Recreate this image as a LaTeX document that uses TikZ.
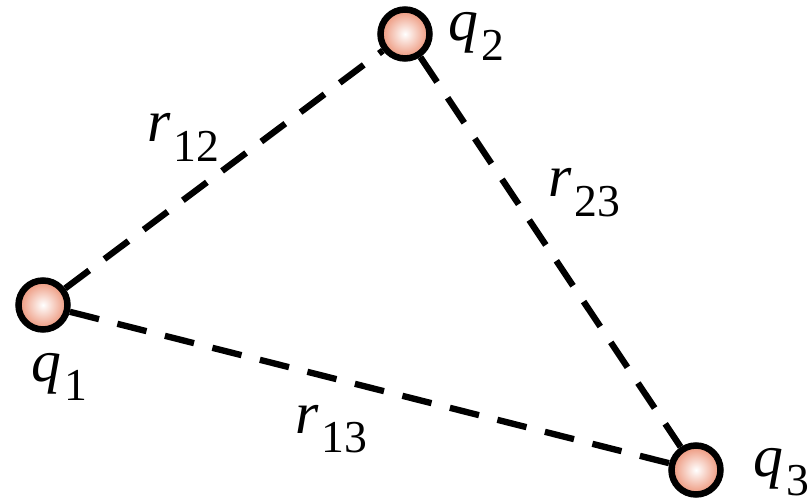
\documentclass[tikz,border=0pt]{standalone}
\usepackage{fontspec}
\setmainfont{Liberation Serif}
\usepackage{tikz}
\usetikzlibrary{positioning}

\definecolor{chargeedge}{RGB}{236,146,118}
\newcommand{\chglbl}[2]{\textit{#1}\kern0.05em\raisebox{-0.33em}{\fontsize{26}{30}\selectfont #2}}

\begin{document}
\begin{tikzpicture}[
  x=0.02cm, y=-0.02cm,
  charge/.style={circle, minimum size=0.98cm, inner sep=0pt, line width=3.7pt, draw=black, inner color=white, outer color=chargeedge},
  sepline/.style={line width=3.6pt, dash pattern=on 0.6cm off 0.38cm},
  lbl/.style={anchor=base west, inner sep=0pt, text height=0.5em, font=\fontsize{34}{40}\selectfont}
]
  \useasboundingbox (0,0) rectangle (808,503);

  % Ladungen
  \node (q1) [charge] at (43,305) {};
  \node (q2) [charge] at (405,34) {};
  \node (q3) [charge] at (696,470) {};

  % Abstaende
  \draw [sepline] (q1) -- (q2);
  \draw [sepline] (q2) -- (q3);
  \draw [sepline] (q1) -- (q3);

  % Beschriftung
  \node (lq1) [lbl] at (31,381) {\chglbl{q}{1}};
  \node (lq2) [lbl] at (448,41) {\chglbl{q}{2}};
  \node (lq3) [lbl] at (753,476) {\chglbl{q}{3}};
  \node (lr12) [lbl] at (147,142) {\chglbl{r}{12}};
  \node (lr23) [lbl] at (548,197) {\chglbl{r}{23}};
  \node (lr13) [lbl] at (295,433) {\chglbl{r}{13}};

\end{tikzpicture}
\end{document}
